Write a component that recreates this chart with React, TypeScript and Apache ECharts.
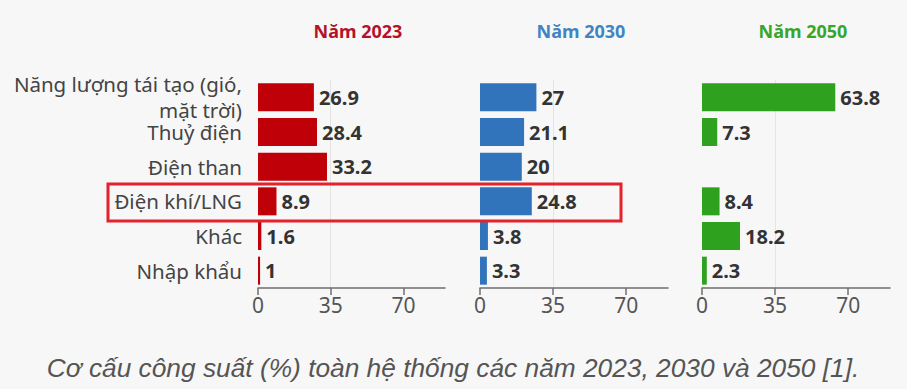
import React, { useEffect, useRef } from "react";
import * as echarts from "echarts";

const categories = [
  "Năng lượng tái tạo (gió,\nmặt trời)",
  "Thuỷ điện",
  "Điện than",
  "Điện khí/LNG",
  "Khác",
  "Nhập khẩu",
];
const years = ["Năm 2023", "Năm 2030", "Năm 2050"];
const values2023 = [26.9, 28.4, 33.2, 8.9, 1.6, 1];
const values2030 = [27, 21.1, 20, 24.8, 3.8, 3.3];
const values2050 = [63.8, 7.3, null, 8.4, 18.2, 2.3];
const tickValues = [0, 35, 70];
const caption = "Cơ cấu công suất (%) toàn hệ thống các năm 2023, 2030 và 2050 [1].";

const barColors = ["#c00008", "#3274bb", "#2ea21f"];
const titleColors = ["#b3132a", "#4284c2", "#38a62b"];

export default function App() {
  const ref = useRef<HTMLDivElement>(null);
  useEffect(() => {
    document.body.style.margin = "0";
    if (!ref.current) return;
    const chart = echarts.init(ref.current, undefined, { renderer: "svg" });
    const seriesData = [values2023, values2030, values2050];
    const lefts = [258, 480, 702];
    const widths = [187, 188, 188];
    const grids = lefts.map((l, i) => ({ left: l, width: widths[i], top: 80, height: 208 }));
    const xAxes = lefts.map((_, i) => ({
      type: "value",
      gridIndex: i,
      min: 0,
      max: 90,
      interval: 35,
      axisLine: { show: true, lineStyle: { color: "#6f6f6f", width: 1.5 } },
      axisTick: { show: true, length: 7, customValues: tickValues, lineStyle: { color: "#6f6f6f", width: 1.5 } },
      axisLabel: {
        customValues: tickValues,
        color: "#555",
        fontSize: 21,
        fontFamily: "Noto Sans",
        margin: 6,
      },
      splitLine: { show: true, showMinLine: false, showMaxLine: false, lineStyle: { color: "#e4e4e4", width: 1 } },
    }));
    const yAxes = lefts.map((_, i) => ({
      type: "category",
      gridIndex: i,
      data: categories,
      inverse: true,
      axisLine: { show: false },
      axisTick: { show: false },
      axisLabel: {
        show: i === 0,
        interval: 0,
        margin: 16,
        align: "right",
        color: "#444",
        fontSize: 20.5,
        lineHeight: 26,
        fontFamily: "Noto Sans",
      },
    }));
    const series = seriesData.map((d, i) => ({
      type: "bar",
      xAxisIndex: i,
      yAxisIndex: i,
      data: d,
      barWidth: 28,
      itemStyle: { color: barColors[i] },
      label: {
        show: true,
        position: "right",
        distance: 5,
        color: "#333",
        fontWeight: "bold",
        fontSize: 20,
        fontFamily: "Noto Sans",
      },
    }));
    const titleX = [358, 581, 803];
    const graphic: any[] = years.map((t, i) => ({
      type: "text",
      x: titleX[i],
      y: 31,
      style: {
        text: t,
        fill: titleColors[i],
        font: "bold 18px 'Noto Sans'",
        textAlign: "center",
        textVerticalAlign: "middle",
      },
    }));
    graphic.push({
      type: "rect",
      shape: { x: 108, y: 184, width: 513, height: 37 },
      style: { fill: "none", stroke: "#e3222b", lineWidth: 3 },
      z: 100,
    });
    graphic.push({
      type: "text",
      x: 453,
      y: 368,
      style: {
        text: caption,
        fill: "#555",
        font: "italic 26.3px 'Liberation Sans'",
        textAlign: "center",
        textVerticalAlign: "middle",
      },
    });
    chart.setOption({
      animation: false,
      backgroundColor: "#f7f7f7",
      grid: grids,
      xAxis: xAxes,
      yAxis: yAxes,
      series,
      graphic,
    });
    return () => chart.dispose();
  }, []);
  return <div ref={ref} style={{ width: 907, height: 389 }} />;
}
